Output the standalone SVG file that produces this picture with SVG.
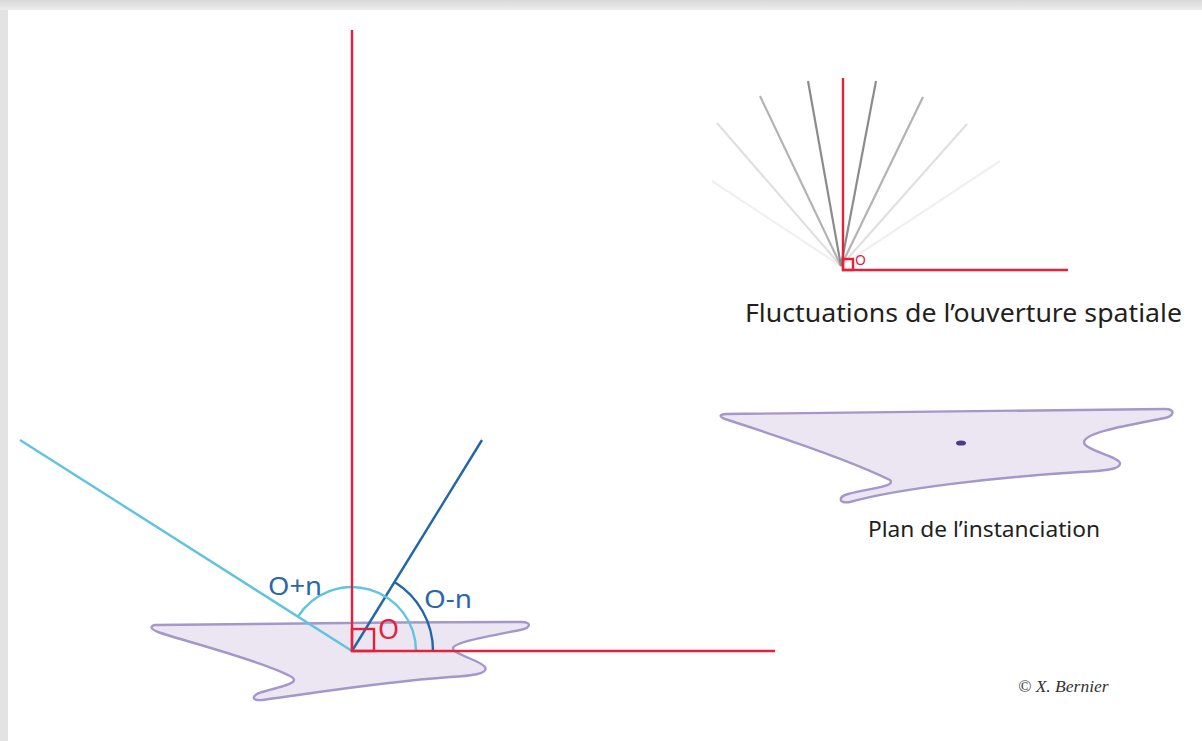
<svg xmlns="http://www.w3.org/2000/svg" width="1202" height="741" viewBox="0 0 1202 741">
<defs>
<linearGradient id="gt" x1="0" y1="0" x2="0" y2="1"><stop offset="0" stop-color="#d9d9d9"/><stop offset="1" stop-color="#ececec"/></linearGradient>
<linearGradient id="gl" x1="0" y1="0" x2="1" y2="0"><stop offset="0" stop-color="#e3e3e3"/><stop offset="1" stop-color="#f2f2f2"/></linearGradient>
<style>
.red{stroke:#e5203a;stroke-width:2.4;fill:none}
.lb{stroke:#5ec4df;stroke-width:2.4;fill:none}
.db{stroke:#2266a8;stroke-width:2.4;fill:none}
.plane{fill:#ece6f2;stroke:#a497ca;stroke-width:2.4}
.lbl{font-family:"Noto Sans","Open Sans",sans-serif;fill:#2a67ad;font-size:26px}
.cap{font-family:"Noto Sans","Open Sans",sans-serif;fill:#231f20}
</style>
</defs>
<rect x="0" y="0" width="1202" height="741" fill="url(#gl)"/>
<rect x="0" y="0" width="1202" height="10" fill="url(#gt)"/>
<rect x="8" y="10" width="1194" height="731" fill="#ffffff"/>

<g id="main-plane">
<path class="plane" d="M155,625 C250,624 400,622 522,622 C532,622 531,628 520,630 C490,636 455,642 453,648 C452,654 480,660 485,667 C489,674 470,676 450,677 C380,682 300,695 262,700 C250,701 252,695 262,692 C285,686 302,682 290,676 C260,660 180,640 158,632 C150,629 150,626 155,625 Z"/>
</g>

<g id="connectors">
<line class="lb" x1="20" y1="440" x2="352" y2="651"/>
<line class="db" x1="352" y1="651" x2="482" y2="440"/>
<path class="lb" d="M416,651 A64,64 0 0 0 298,616.7"/>
<path class="db" d="M433,651 A81,81 0 0 0 394.5,582"/>
<line class="red" x1="352" y1="30" x2="352" y2="652"/>
<line class="red" x1="351" y1="651" x2="775" y2="651"/>
<rect class="red" x="352" y="629" width="22" height="22"/>
</g>

<g id="labels">
<text class="lbl" x="268" y="595" textLength="54" lengthAdjust="spacingAndGlyphs">O+n</text>
<text class="lbl" x="424" y="608" textLength="48" lengthAdjust="spacingAndGlyphs">O-n</text>
<text x="378" y="639" font-family="'Noto Sans','Open Sans',sans-serif" font-size="27" fill="#e5203a">O</text>
</g>

<g id="fan">
<g stroke-width="2.2" fill="none">
<line x1="841" y1="266" x2="712" y2="181" stroke="#f0f0f0"/>
<line x1="841" y1="266" x2="1000" y2="161" stroke="#f0f0f0"/>
<line x1="841" y1="266" x2="717" y2="123" stroke="#e0e0e0"/>
<line x1="841" y1="266" x2="967" y2="124" stroke="#e0e0e0"/>
<line x1="841" y1="266" x2="760" y2="96" stroke="#b3b3b3"/>
<line x1="841" y1="266" x2="923" y2="97" stroke="#b3b3b3"/>
<line x1="841" y1="266" x2="808" y2="81" stroke="#8c8c8c"/>
<line x1="841" y1="266" x2="876" y2="81" stroke="#8c8c8c"/>
</g>
<line class="red" x1="843" y1="78" x2="843" y2="271"/>
<line class="red" x1="842" y1="270" x2="1068" y2="270"/>
<rect class="red" x="843" y="259" width="10" height="11" stroke-width="2"/>
<text x="855" y="265" font-family="'Noto Sans',sans-serif" font-size="14" fill="#e5203a">O</text>
<text class="cap" x="745" y="322" font-size="25" textLength="437" lengthAdjust="spacingAndGlyphs">Fluctuations de l’ouverture spatiale</text>
</g>

<g id="instanciation-plane">
<path class="plane" d="M726,414 C850,412 1000,410 1165,409 C1176,409 1174,416 1165,418 C1130,425 1085,432 1084,442 C1083,450 1118,456 1120,463 C1121,470 1100,471 1080,472 C1000,477 900,488 850,502 C838,504 838,497 848,494 C870,488 896,487 890,480 C860,465 790,440 728,420 C718,417 719,414 726,414 Z"/>
<ellipse cx="961" cy="443" rx="5" ry="2.6" fill="#4b3b8c"/>
<text class="cap" x="868" y="537" font-size="21" textLength="232" lengthAdjust="spacingAndGlyphs">Plan de l’instanciation</text>
</g>

<g id="credit">
<text x="1018" y="692" font-family="'Liberation Serif',serif" font-style="italic" font-size="17.5" fill="#333">© X. Bernier</text>
</g>
</svg>
